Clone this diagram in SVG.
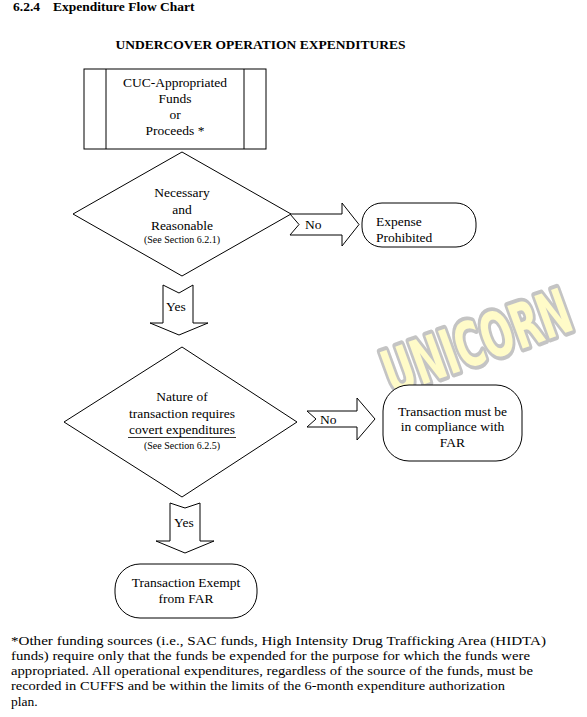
<svg xmlns="http://www.w3.org/2000/svg" width="587" height="717" viewBox="0 0 587 717">
<style>
.t{font-family:'Liberation Serif','DejaVu Serif',serif;font-size:13.5px;fill:#000}
.c{text-anchor:middle}
.b{font-weight:bold}
.s{font-size:10px}
.sh{fill:#fff;stroke:#000;stroke-width:1}
.wm{font-family:'DejaVu Sans Condensed','DejaVu Sans',sans-serif;font-stretch:condensed;font-weight:bold;font-size:62px;fill:#FFFBC8;stroke:#C4C4C4;stroke-width:8;stroke-linejoin:round;paint-order:stroke}
</style>
<rect width="587" height="717" fill="#fff"/>
<g id="header" font-family="Liberation Serif, DejaVu Serif, serif">
<text class="t b" x="13" y="11">6.2.4</text>
<text class="t b" x="53" y="11">Expenditure Flow Chart</text>
<text class="t b c" x="260.5" y="49">UNDERCOVER OPERATION EXPENDITURES</text>
</g>
<g id="watermark">
<text class="wm" x="392" y="396" transform="rotate(-20 392 396)" textLength="196" lengthAdjust="spacingAndGlyphs">UNICORN</text>
</g>
<g id="connectors" font-family="Liberation Serif, DejaVu Serif, serif">
<path class="sh" d="M290,214 L342,214 L342,203 L359,224.5 L342,246 L342,235 L290,235 L299,224.5 Z"/>
<text class="t" x="305" y="229">No</text>
<path class="sh" d="M163,285 L179,293 L193,285 L193,323 L208,323 L179,335 L150,323 L163,323 Z"/>
<text class="t" x="166" y="311">Yes</text>
<path class="sh" d="M307,411 L357,411 L357,398 L375,419 L357,440 L357,427 L307,427 L316,419 Z"/>
<text class="t" x="320" y="424">No</text>
<path class="sh" d="M170,503 L185,508 L200,503 L200,541 L214,541 L185,553 L156,541 L170,541 Z"/>
<text class="t" x="174" y="527">Yes</text>
</g>
<g id="funds" font-family="Liberation Serif, DejaVu Serif, serif">
<rect class="sh" x="84" y="69" width="182" height="80"/>
<line x1="106" y1="69" x2="106" y2="149" stroke="#000"/>
<line x1="244" y1="69" x2="244" y2="149" stroke="#000"/>
<text class="t c" x="175" y="87">CUC-Appropriated</text>
<text class="t c" x="175" y="103">Funds</text>
<text class="t c" x="175" y="119">or</text>
<text class="t c" x="175" y="135">Proceeds *</text>
</g>
<g id="necessary" font-family="Liberation Serif, DejaVu Serif, serif">
<polygon class="sh" points="182,152 291,214 182,276 73,214"/>
<text class="t c" x="182" y="197">Necessary</text>
<text class="t c" x="182" y="214">and</text>
<text class="t c" x="182" y="230">Reasonable</text>
<text class="t c s" x="182" y="243">(See Section 6.2.1)</text>
</g>
<g id="prohibited" font-family="Liberation Serif, DejaVu Serif, serif">
<rect class="sh" x="362" y="203" width="114" height="44" rx="20" ry="20"/>
<text class="t" x="376" y="226">Expense</text>
<text class="t" x="376" y="242">Prohibited</text>
</g>
<g id="nature" font-family="Liberation Serif, DejaVu Serif, serif">
<polygon class="sh" points="182,347 297,422 182,497 64,422"/>
<text class="t c" x="182" y="401">Nature of</text>
<text class="t c" x="182" y="418">transaction requires</text>
<text class="t c" x="182" y="434">covert expenditures</text>
<line x1="128" y1="437.5" x2="236" y2="437.5" stroke="#000" stroke-width="0.8"/>
<text class="t c s" x="182" y="449">(See Section 6.2.5)</text>
</g>
<g id="far" font-family="Liberation Serif, DejaVu Serif, serif">
<rect class="sh" x="383" y="385" width="139" height="76" rx="26" ry="26"/>
<text class="t c" x="452.5" y="416">Transaction must be</text>
<text class="t c" x="452.5" y="431">in compliance with</text>
<text class="t c" x="452.5" y="447">FAR</text>
</g>
<g id="exempt" font-family="Liberation Serif, DejaVu Serif, serif">
<rect class="sh" x="115" y="564" width="142" height="54" rx="25" ry="25"/>
<text class="t c" x="186" y="587">Transaction Exempt</text>
<text class="t c" x="186" y="603">from FAR</text>
</g>
<g id="footnote" font-family="Liberation Serif, DejaVu Serif, serif">
<text class="t" x="11" y="645" textLength="535" lengthAdjust="spacingAndGlyphs">*Other funding sources (i.e., SAC funds, High Intensity Drug Trafficking Area (HIDTA)</text>
<text class="t" x="11" y="660" textLength="519" lengthAdjust="spacingAndGlyphs">funds) require only that the funds be expended for the purpose for which the funds were</text>
<text class="t" x="11" y="675" textLength="522" lengthAdjust="spacingAndGlyphs">appropriated.  All operational expenditures, regardless of the source of the funds, must be</text>
<text class="t" x="11" y="690" textLength="494" lengthAdjust="spacingAndGlyphs">recorded in CUFFS and be within the limits of the 6-month expenditure authorization</text>
<text class="t" x="11" y="706">plan.</text>
</g>
</svg>
